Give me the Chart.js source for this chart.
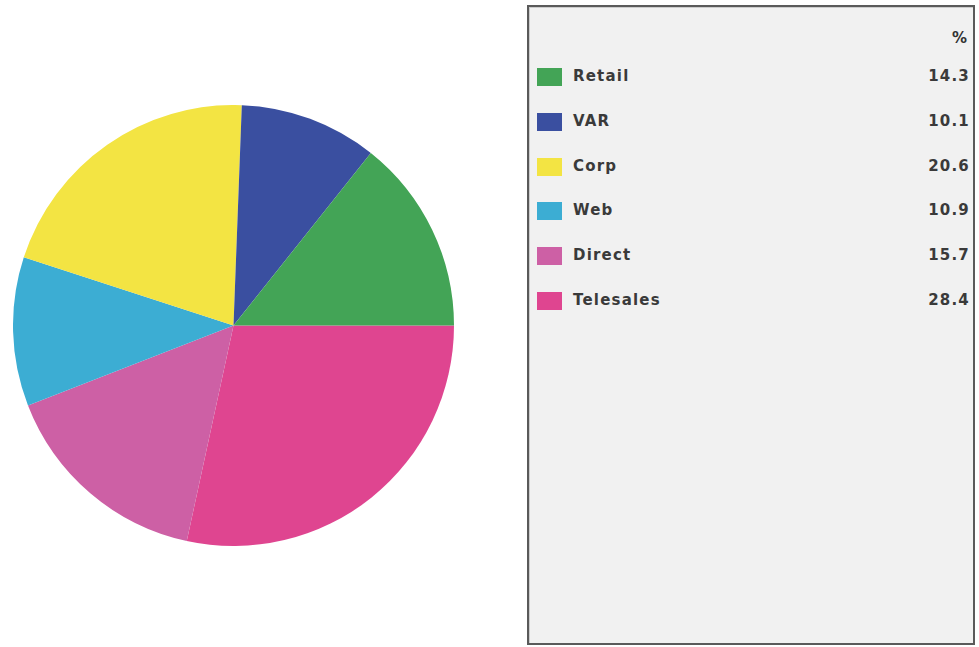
<!DOCTYPE html>
<html lang="en">
<head>
    <meta charset="UTF-8">
    <title>Sales by channel</title>
    <script src="https://cdn.jsdelivr.net/npm/chart.js"></script>
    <style>
        body {
            margin: 0;
            background: #fff;
            font-family: 'DejaVu Sans', Verdana, sans-serif;
        }
        .pie-wrap {
            position: absolute;
            left: 13px;
            top: 105px;
            width: 441px;
            height: 441px;
        }
        .legend-box {
            position: absolute;
            left: 527px;
            top: 5px;
            width: 444px;
            height: 636px;
            background: #f1f1f1;
            border: 2px solid #5a5a5a;
            box-shadow: inset 1px 1px 0 #ccc;
        }
        .legend-head {
            position: absolute;
            right: 6px;
            top: 22px;
            font-size: 15px;
            font-weight: bold;
            color: #333;
        }
        .legend-row {
            position: absolute;
            left: 8px;
            right: 3px;
            height: 20px;
            font-size: 15px;
            font-weight: bold;
            color: #3a3a3a;
            letter-spacing: 1.2px;
        }
        .swatch {
            position: absolute;
            left: 0;
            top: 1px;
            width: 25px;
            height: 18px;
        }
        .name { position: absolute; left: 36px; top: 0; }
        .val { position: absolute; right: 0; top: 0; }
    </style>
</head>
<body>
    <div class="pie-wrap"><canvas id="pieChart"></canvas></div>
    <div class="legend-box" id="legend">
        <div class="legend-head">%</div>
    </div>

    <script>
        const channels = ['Retail', 'VAR', 'Corp', 'Web', 'Direct', 'Telesales'];
        const shares = [14.3, 10.1, 20.6, 10.9, 15.7, 28.4];
        const colours = ['#43a456', '#3a4fa0', '#f3e443', '#3cadd3', '#cd60a5', '#df4590'];

        // legend on the right, same order as the data
        const legend = document.getElementById('legend');
        channels.forEach((name, i) => {
            const row = document.createElement('div');
            row.className = 'legend-row';
            row.style.top = (60 + i * 44.8) + 'px';
            row.innerHTML = '<span class="swatch" style="background:' + colours[i] + '"></span>' +
                '<span class="name">' + name + '</span>' +
                '<span class="val">' + shares[i].toFixed(1) + '</span>';
            legend.appendChild(row);
        });

        // slices run anticlockwise from 3 o'clock, so feed them in reverse
        const ctx = document.getElementById('pieChart').getContext('2d');
        new Chart(ctx, {
            type: 'pie',
            data: {
                labels: channels.slice().reverse(),
                datasets: [{
                    data: shares.slice().reverse(),
                    backgroundColor: colours.slice().reverse(),
                    borderWidth: 0
                }]
            },
            options: {
                responsive: true,
                maintainAspectRatio: false,
                animation: false,
                rotation: 90,
                layout: { padding: 0 },
                plugins: {
                    legend: { display: false },
                    tooltip: { enabled: false }
                }
            }
        });
    </script>
</body>
</html>
